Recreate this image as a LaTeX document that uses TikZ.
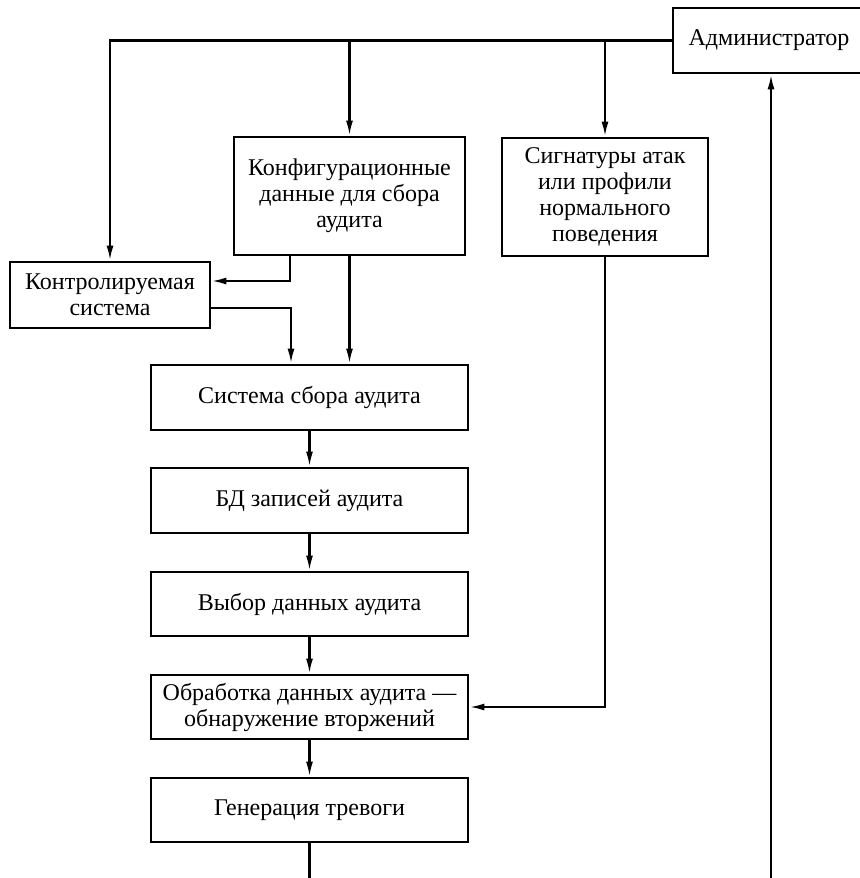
\documentclass[tikz,border=0pt]{standalone}
\usepackage{fontspec}
\setmainfont{Liberation Serif}
\usetikzlibrary{arrows.meta}

\begin{document}
\begin{tikzpicture}[x=0.5pt, y=-0.5pt, >={Latex[length=7.5pt,width=3.5pt]},
    box/.style={draw, line width=1.4pt, align=center, inner sep=2pt,
        font=\fontsize{12}{13}\selectfont},
    link/.style={line width=1.1pt}]
        \useasboundingbox (0, 0) rectangle (859, 878);

        % Блоки
        \node[box, minimum width=192*0.5pt, minimum height=65*0.5pt] (admin) at (769, 40.5) {Администратор};
        \node[box, minimum width=231*0.5pt, minimum height=118*0.5pt] (config) at (349.5, 196)
            {Конфигурационные\\данные для сбора\\аудита};
        \node[box, minimum width=206*0.5pt, minimum height=118*0.5pt] (sign) at (605, 197)
            {Сигнатуры атак\\или профили\\нормального\\поведения};
        \node[box, minimum width=200*0.5pt, minimum height=66*0.5pt] (monitored) at (110, 295)
            {Контролируемая\\система};
        \node[box, minimum width=317*0.5pt, minimum height=65*0.5pt] (collect) at (309.5, 397.5) {Система сбора аудита};
        \node[box, minimum width=317*0.5pt, minimum height=65*0.5pt] (db) at (309.5, 500.5) {БД записей аудита};
        \node[box, minimum width=317*0.5pt, minimum height=64*0.5pt] (select) at (309.5, 604) {Выбор данных аудита};
        \node[box, minimum width=317*0.5pt, minimum height=64*0.5pt] (process) at (309.5, 707)
            {Обработка данных аудита —\\обнаружение вторжений};
        \node[box, minimum width=317*0.5pt, minimum height=64*0.5pt] (alarm) at (309.5, 810) {Генерация тревоги};

        % Свободные концы внизу
        \coordinate (alarmout) at (309.5, 878);
        \coordinate (adminin) at (771, 878);

        % Связи от администратора
        \draw[link, ->] (admin.west) -| (monitored.north);
        \draw[link, ->] (config.north |- admin.west) -- (config.north);
        \draw[link, ->] (sign.north |- admin.west) -- (sign.north);

        % Конфигурация и контролируемая система
        \draw[link, ->] ([xshift=-29.75pt]config.south) |- ([yshift=7pt]monitored.east);
        \draw[link, ->] ([yshift=-6.5pt]monitored.east) -| ([xshift=-9.25pt]collect.north);
        \draw[link, ->] (config.south) -- (config.south |- collect.north);

        % Цепочка обработки
        \draw[link, ->] (collect) -- (db);
        \draw[link, ->] (db) -- (select);
        \draw[link, ->] (select) -- (process);
        \draw[link, ->] (process) -- (alarm);
        \draw[link, ->] (sign.south) |- (process.east);

        % Выходы
        \draw[link] (alarm.south) -- (alarmout);
        \draw[link, ->] (adminin) -- (adminin |- admin.south);

    \end{tikzpicture}
\end{document}
